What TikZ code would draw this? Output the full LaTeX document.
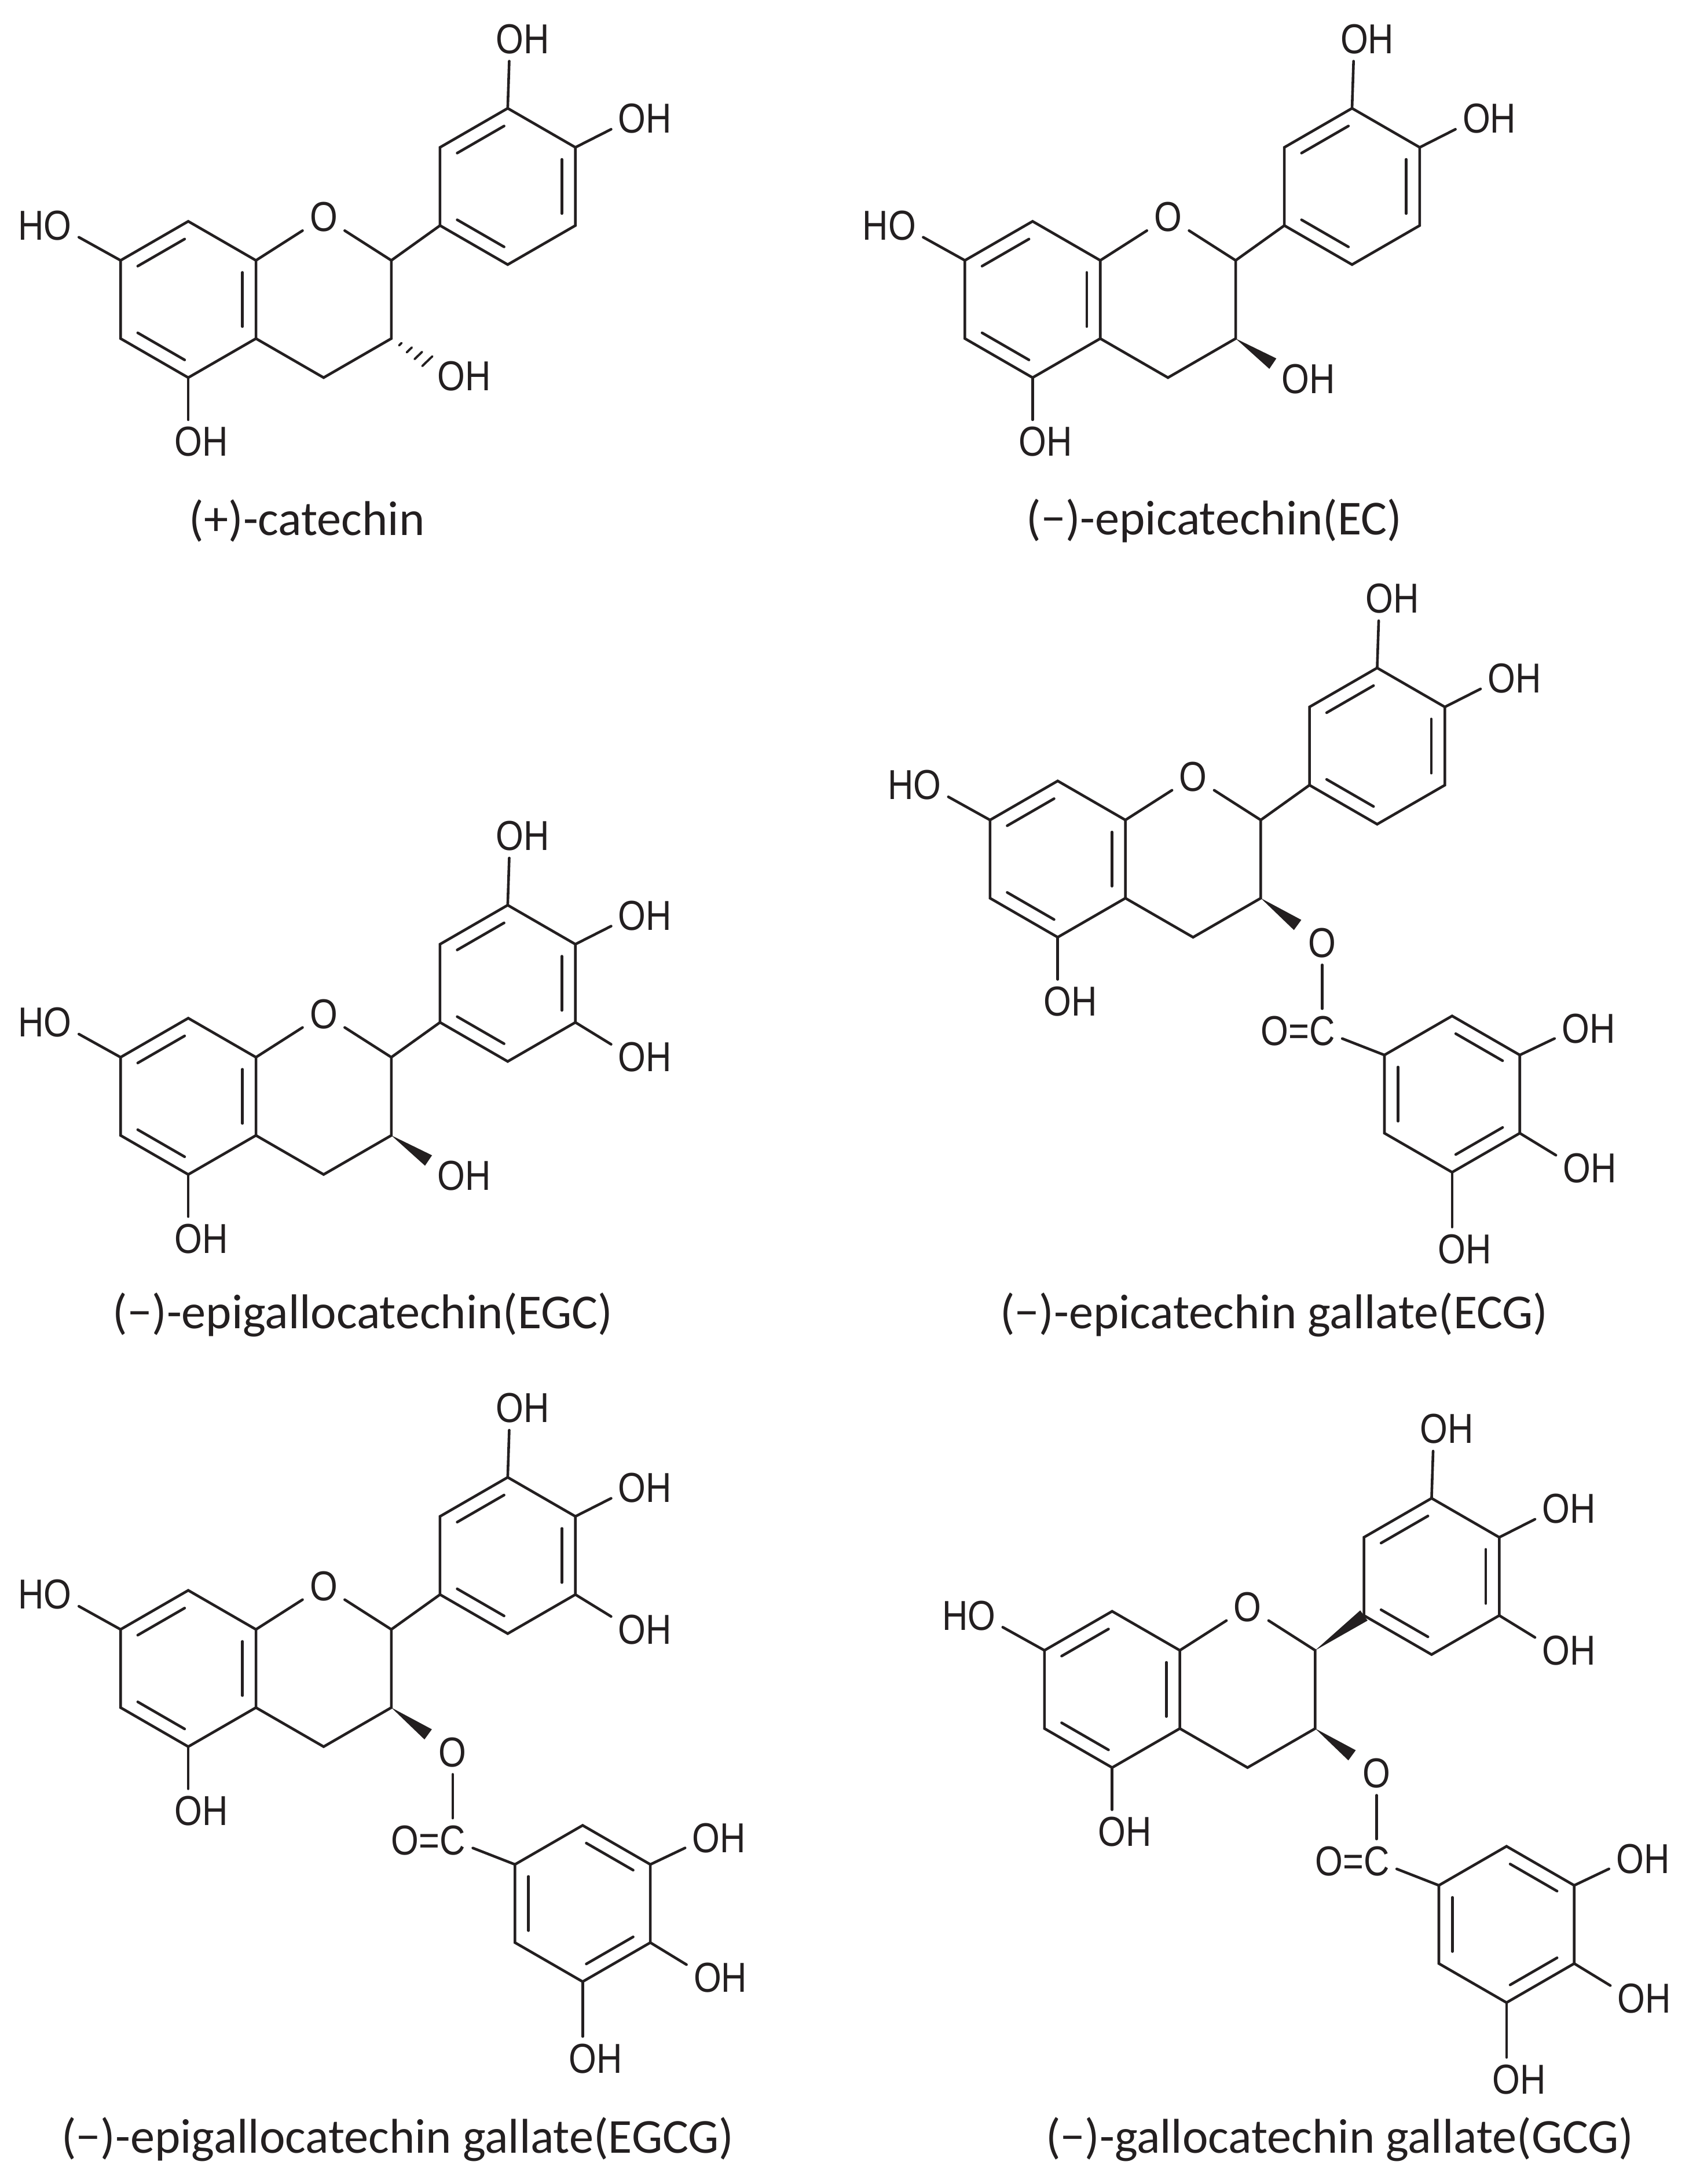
\documentclass[tikz,border=0pt]{standalone}
\usepackage{fontspec}
\setmainfont{Carlito}
\newfontfamily\labfont[FakeStretch=0.85]{Liberation Sans}
\usetikzlibrary{calc}
\definecolor{ink}{HTML}{231F20}
\tikzset{
  bond/.style={line width=1.9pt,color=ink,line cap=round},
  atom/.style={font=\labfont\fontsize{30}{30}\selectfont,inner sep=5pt,text=ink},
  capt/.style={font=\fontsize{35}{35}\selectfont,text=ink}
}
\newcommand\hexat[2]{%
  \coordinate (#1t) at #2;
  \coordinate (#1ur) at ($(#1t)+(48.5,28)$);
  \coordinate (#1lr) at ($(#1t)+(48.5,84)$);
  \coordinate (#1b) at ($(#1t)+(0,112)$);
  \coordinate (#1ll) at ($(#1t)+(-48.5,84)$);
  \coordinate (#1ul) at ($(#1t)+(-48.5,28)$);
  \coordinate (#1c) at ($(#1t)+(0,56)$);
  \draw[bond] (#1t)--(#1ur)--(#1lr)--(#1b)--(#1ll)--(#1ul)--cycle;}
\newcommand\inb[3]{\draw[bond,shorten <=3pt,shorten >=3pt] ($(#1c)!0.8!(#1#2)$) -- ($(#1c)!0.8!(#1#3)$);}
\newcommand\wedgeb[2]{\fill[ink] (#1) -- ($(#2)!4.5pt!90:(#1)$) -- ($(#2)!4.5pt!-90:(#1)$) -- cycle;}
\newcommand\core[1]{%
  \hexat{#1A}{(-48.5,-28)}
  \inb{#1A}{t}{ul}\inb{#1A}{ll}{b}\inb{#1A}{lr}{ur}
  \coordinate (#1C2) at (97,0); \coordinate (#1C3) at (97,56); \coordinate (#1C4) at (48.5,84);
  \node[atom] (#1O) at (48.5,-31) {O};
  \draw[bond] (#1Aur)--(#1O)--(#1C2)--(#1C3)--(#1C4)--(#1Alr);
  \hexat{#1B}{(180.4,-109)}
  \inb{#1B}{t}{ul}\inb{#1B}{ur}{lr}\inb{#1B}{b}{ll}
  \node[atom] (#1HO) at (-142,-25) {\llap{H}O}; \draw[bond] (#1Aul)--(#1HO);
  \node[atom] (#1OHa) at (-48.5,130) {O\rlap{H}}; \draw[bond] (#1Ab)--(#1OHa);
  \node[atom] (#1OHb) at (182,-158.6) {O\rlap{H}}; \draw[bond] (#1Bt)--(#1OHb);
  \node[atom] (#1OHc) at (269.6,-101.6) {O\rlap{H}}; \draw[bond] (#1Bur)--(#1OHc);}
\newcommand\pyro[1]{%
  \node[atom] (#1OHd) at (269.6,0) {O\rlap{H}}; \draw[bond] (#1Blr)--(#1OHd);}
\newcommand\plainB[1]{\draw[bond] (#1C2)--(#1Bll);}
\newcommand\ohwedge[1]{%
  \node[atom] (#1OH3) at (140,85) {O\rlap{H}};
  \coordinate (#1W) at ($(#1C3)!0.62!(#1OH3)$);
  \wedgeb{#1C3}{#1W}}
\newcommand\ester[1]{%
  \node[atom] (#1Oe) at (141,88) {O};
  \coordinate (#1W) at ($(#1C3)!0.6!(#1Oe)$);
  \wedgeb{#1C3}{#1W}
  \node[atom] (#1Ce) at (141,151) {\llap{O=}C};
  \draw[bond] (#1Oe)--(#1Ce);
  \hexat{#1G}{(234.1,140.4)}
  \inb{#1G}{ul}{ll}\inb{#1G}{t}{ur}\inb{#1G}{lr}{b}
  \draw[bond] (#1Ce)--(#1Gul);
  \node[atom] (#1GOa) at (322.6,149.4) {O\rlap{H}}; \draw[bond] (#1Gur)--(#1GOa);
  \node[atom] (#1GOb) at (323.6,249.4) {O\rlap{H}}; \draw[bond] (#1Glr)--(#1GOb);
  \node[atom] (#1GOc) at (234.1,307.5) {O\rlap{H}}; \draw[bond] (#1Gb)--(#1GOc);}
\begin{document}
\begin{tikzpicture}[x=1pt,y=-1pt]
\useasboundingbox (0,0) rectangle (1210,1565);
\fill[white] (0,0) rectangle (1210,1565);
% catechin
\begin{scope}[shift={(183.4,186.6)}]
  \core{a}\plainB{a}
  \node[atom] (aOH3) at (140,83) {O\rlap{H}};
  \foreach \t in {0.15,0.3,0.45,0.6}
    \draw[bond,line width=1.6pt] ($(aC3)!\t!(aOH3)-(\t*6,-\t*5.8)$) -- ($(aC3)!\t!(aOH3)+(\t*6,-\t*5.8)$);
\end{scope}
\node[capt] (capa) at (220,373) {(+)-catechin};
% EC
\begin{scope}[shift={(788.4,186.6)}]
  \core{b}\plainB{b}\ohwedge{b}
\end{scope}
\node[capt] (capb) at (870,373) {(−)-epicatechin(EC)};
% EGC
\begin{scope}[shift={(183.4,757.6)}]
  \core{c}\plainB{c}\pyro{c}\ohwedge{c}
\end{scope}
\node[capt] (capc) at (260,942) {(−)-epigallocatechin(EGC)};
% ECG
\begin{scope}[shift={(806.4,587.6)}]
  \core{d}\plainB{d}\ester{d}
\end{scope}
\node[capt] (capd) at (913,942) {(−)-epicatechin gallate(ECG)};
% EGCG
\begin{scope}[shift={(183.4,1167.6)}]
  \core{e}\plainB{e}\pyro{e}\ester{e}
\end{scope}
\node[capt] (cape) at (285,1533) {(−)-epigallocatechin gallate(EGCG)};
% GCG
\begin{scope}[shift={(845.4,1182.6)}]
  \core{f}\pyro{f}\ester{f}
  \wedgeb{fC2}{fBll}
\end{scope}
\node[capt] (capf) at (960,1533) {(−)-gallocatechin gallate(GCG)};
\end{tikzpicture}
\end{document}
